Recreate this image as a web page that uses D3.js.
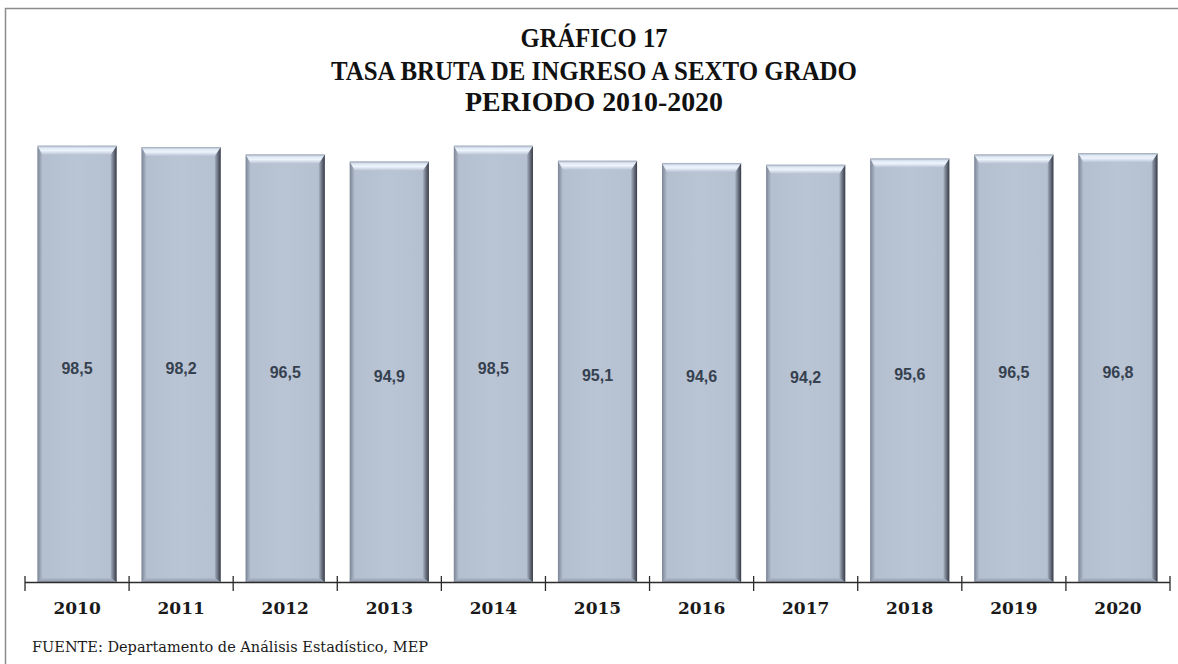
<!DOCTYPE html>
<html lang="es">
<head>
<meta charset="UTF-8">
<title>Tasa bruta de ingreso a sexto grado</title>
<script src="https://d3js.org/d3.v7.min.js"></script>
<style>
  body { margin: 0; background: #fff; }
  svg { display: block; }
  .title { font-family: "Liberation Serif", serif; font-weight: bold; fill: #111; }
  .year { font-family: "DejaVu Serif", serif; font-weight: bold; font-size: 17px; fill: #1a1a1a; }
  .val { font-family: "Liberation Sans", Arial, sans-serif; font-weight: bold; font-size: 16px; fill: #36414f; }
  .src { font-family: "DejaVu Serif", serif; font-size: 15px; fill: #1a1a1a; }
</style>
</head>
<body>
<svg id="chart" width="1178" height="664"></svg>
<script>
'use strict';

const years = ['2010','2011','2012','2013','2014','2015','2016','2017','2018','2019','2020'];
const rates = [98.5, 98.2, 96.5, 94.9, 98.5, 95.1, 94.6, 94.2, 95.6, 96.5, 96.8];
const titleLines = ['GRÁFICO 17', 'TASA BRUTA DE INGRESO A SEXTO GRADO', 'PERIODO 2010-2020'];
const source = 'FUENTE: Departamento de Análisis Estadístico, MEP';

const svg = d3.select('#chart');
const W = 1178, H = 664;
const plot = { left: 25, right: 1170, top: 139, bottom: 582 };

// outer frame (cut off on the right and bottom like the original)
svg.append('rect')
  .attr('x', 5.5).attr('y', 8.5)
  .attr('width', W + 10).attr('height', H + 10)
  .attr('fill', 'none').attr('stroke', '#8c8c8c').attr('stroke-width', 1.5);

// title
const titleW = [147, 526, 258];
const titleY = [47, 80, 111];
svg.selectAll('text.title').data(titleLines).enter().append('text')
  .attr('class', 'title')
  .attr('x', 594)
  .attr('y', (d, i) => titleY[i])
  .attr('text-anchor', 'middle')
  .attr('font-size', 28)
  .attr('textLength', (d, i) => titleW[i])
  .attr('lengthAdjust', 'spacingAndGlyphs')
  .text(d => d);

const x = d3.scaleBand().domain(years).range([plot.left, plot.right]).paddingInner(0.24).paddingOuter(0.12);
const y = d3.scaleLinear().domain([0, 100]).range([plot.bottom, plot.top]);

// gradients for the bevelled bars
const defs = svg.append('defs');
function grad(id, x2, y2, stops) {
  const g = defs.append('linearGradient').attr('id', id)
    .attr('x1', 0).attr('y1', 0).attr('x2', x2).attr('y2', y2);
  stops.forEach(s => g.append('stop').attr('offset', s[0]).attr('stop-color', s[1]));
}
grad('face', 1, 0, [[0, '#b3bece'], [0.5, '#b9c4d5'], [1, '#b4bfd0']]);
grad('bevTop', 0, 1, [[0, '#9aa4b3'], [0.25, '#dfe8f5'], [0.55, '#eef4fc'], [1, '#b9c4d5']]);
grad('bevRight', 1, 0, [[0, '#a9b3c3'], [0.5, '#6d7483'], [1, '#363b44']]);
grad('bevLeft', 1, 0, [[0, '#7c8595'], [1, '#b3bece']]);
grad('bevBottom', 0, 1, [[0, '#b0bbcb'], [1, '#8d97a7']]);

const bt = 9, bs = 6, bb = 4;
const bars = svg.append('g').selectAll('g').data(years.map((yr, i) => ({ yr, v: rates[i] }))).enter().append('g');

bars.append('rect')
  .attr('x', d => x(d.yr)).attr('y', d => y(d.v))
  .attr('width', x.bandwidth()).attr('height', d => y(0) - y(d.v))
  .attr('fill', 'url(#face)');

function poly(pts) { return pts.map(p => p.join(',')).join(' '); }
bars.append('polygon').attr('fill', 'url(#bevLeft)').attr('points', d => {
  const x0 = x(d.yr), y0 = y(d.v), y1 = y(0);
  return poly([[x0, y0], [x0 + bs - 1, y0 + bt], [x0 + bs - 1, y1 - bb], [x0, y1]]);
});
bars.append('polygon').attr('fill', 'url(#bevBottom)').attr('points', d => {
  const x0 = x(d.yr), x1 = x0 + x.bandwidth(), y1 = y(0);
  return poly([[x0, y1], [x0 + bs - 1, y1 - bb], [x1 - bs, y1 - bb], [x1, y1]]);
});
bars.append('polygon').attr('fill', 'url(#bevRight)').attr('points', d => {
  const x1 = x(d.yr) + x.bandwidth(), y0 = y(d.v), y1 = y(0);
  return poly([[x1, y0], [x1, y1], [x1 - bs, y1 - bb], [x1 - bs, y0 + bt]]);
});
bars.append('polygon').attr('fill', 'url(#bevTop)').attr('points', d => {
  const x0 = x(d.yr), x1 = x0 + x.bandwidth(), y0 = y(d.v);
  return poly([[x0, y0], [x1, y0], [x1 - bs, y0 + bt], [x0 + bs - 1, y0 + bt]]);
});

// value labels
bars.append('text')
  .attr('class', 'val')
  .attr('x', d => x(d.yr) + x.bandwidth() / 2)
  .attr('y', d => (y(d.v) + y(0)) / 2 + 10)
  .attr('text-anchor', 'middle')
  .text(d => d.v.toFixed(1).replace('.', ','));

// axis line with ticks between categories
const ax = svg.append('g');
ax.append('line')
  .attr('x1', plot.left).attr('x2', plot.right)
  .attr('y1', plot.bottom + 0.5).attr('y2', plot.bottom + 0.5)
  .attr('stroke', '#2b2b2b').attr('stroke-width', 1.5);
const bounds = d3.range(years.length + 1).map(i => plot.left + i * x.step());
ax.selectAll('line.tk').data(bounds).enter().append('line')
  .attr('class', 'tk')
  .attr('x1', d => d).attr('x2', d => d)
  .attr('y1', plot.bottom - 6).attr('y2', plot.bottom + 9)
  .attr('stroke', '#2b2b2b').attr('stroke-width', 1.3);

// year labels
svg.append('g').attr('transform', `translate(0,${plot.bottom})`)
  .call(d3.axisBottom(x).tickSize(0).tickPadding(0))
  .call(g => g.select('.domain').remove())
  .selectAll('text')
  .attr('class', 'year')
  .attr('dy', null)
  .attr('y', 32)
  .attr('font-family', null).attr('font-size', null);

// source note
svg.append('text').attr('class', 'src').attr('x', 32).attr('y', 652)
  .attr('textLength', 396).attr('lengthAdjust', 'spacingAndGlyphs')
  .text(source);
</script>
</body>
</html>
